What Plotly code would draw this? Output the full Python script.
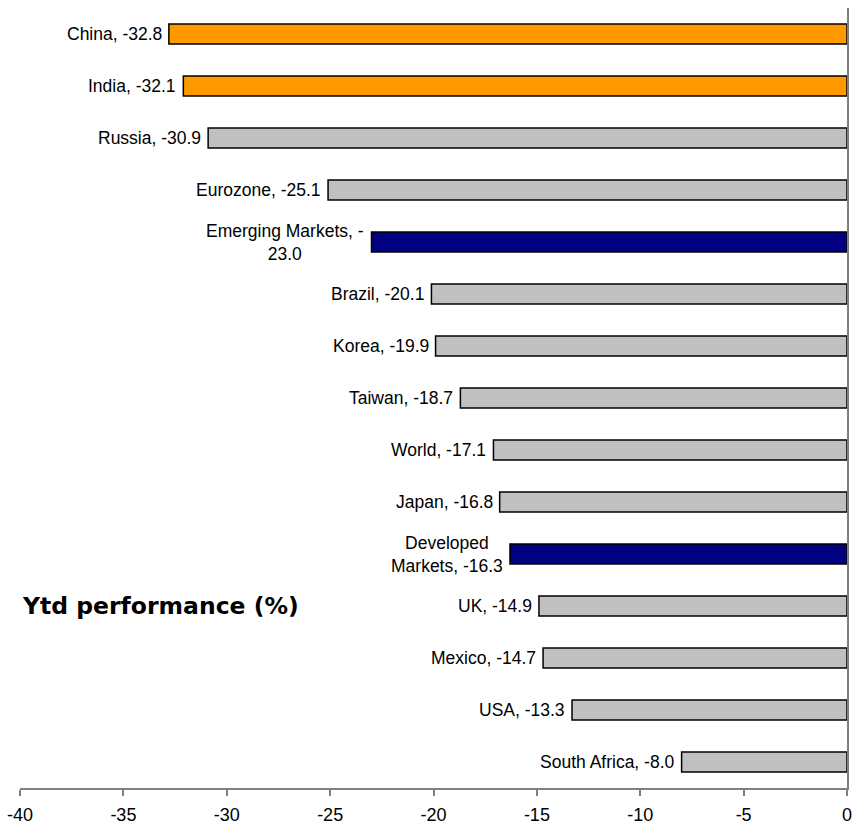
import plotly.graph_objects as go

categories = ["China", "India", "Russia", "Eurozone", "Emerging Markets", "Brazil", "Korea",
              "Taiwan", "World", "Japan", "Developed Markets", "UK", "Mexico", "USA", "South Africa"]
values = [-32.8, -32.1, -30.9, -25.1, -23.0, -20.1, -19.9, -18.7, -17.1, -16.8, -16.3,
          -14.9, -14.7, -13.3, -8.0]
labels = ["China, -32.8", "India, -32.1", "Russia, -30.9", "Eurozone, -25.1",
          "Emerging Markets, -<br>23.0", "Brazil, -20.1", "Korea, -19.9", "Taiwan, -18.7",
          "World, -17.1", "Japan, -16.8", "Developed<br>Markets, -16.3", "UK, -14.9",
          "Mexico, -14.7", "USA, -13.3", "South Africa, -8.0"]
groups = ["hot", "hot", "other", "other", "agg", "other", "other", "other", "other", "other",
          "agg", "other", "other", "other", "other"]
group_colors = {"hot": "#FF9900", "other": "#C0C0C0", "agg": "#000080"}
tick_vals = [-40, -35, -30, -25, -20, -15, -10, -5, 0]
tick_text = ["-40", "-35", "-30", "-25", "-20", "-15", "-10", "-5", "0"]
axis_title = "Ytd performance (%)"

fig = go.Figure()
fig.add_trace(go.Bar(
    x=values, y=categories, orientation="h",
    marker=dict(color=[group_colors[g] for g in groups], line=dict(color="#000000", width=1.5)),
    width=0.385, hoverinfo="x+y",
))

for c, v, lab in zip(categories, values, labels):
    fig.add_annotation(x=v, y=c, text=lab, showarrow=False, xanchor="right", yanchor="middle",
                       align="center", xshift=-5,
                       font=dict(family="Liberation Sans, Arial, sans-serif", size=17.5, color="#000000"))

fig.add_annotation(xref="paper", yref="paper", x=0.0, y=0.2335, text="<b>" + axis_title + "</b>",
                   showarrow=False, xanchor="left", yanchor="middle",
                   font=dict(family="DejaVu Sans, Verdana, sans-serif", size=23.5, color="#000000"))

fig.update_layout(
    width=852, height=827,
    margin=dict(l=20, r=5, t=8, b=39, autoexpand=False),
    paper_bgcolor="#FFFFFF", plot_bgcolor="#FFFFFF",
    showlegend=False,
    bargap=0.6,
    xaxis=dict(range=[-40, 0], tickvals=tick_vals, ticktext=tick_text, showgrid=False,
               zeroline=False, showline=True, linecolor="#808080", linewidth=1.5,
               ticks="outside", ticklen=6, tickcolor="#808080", tickwidth=1.5,
               ticklabeloverflow="allow", ticklabelstandoff=4, automargin=False,
               tickfont=dict(family="Liberation Sans, Arial, sans-serif", size=18, color="#000000")),
    yaxis=dict(autorange="reversed", showticklabels=False, showgrid=False, zeroline=False,
               side="right", showline=True, linecolor="#808080", linewidth=2, ticks="",
               automargin=False),
)

fig.write_html("out.html")
